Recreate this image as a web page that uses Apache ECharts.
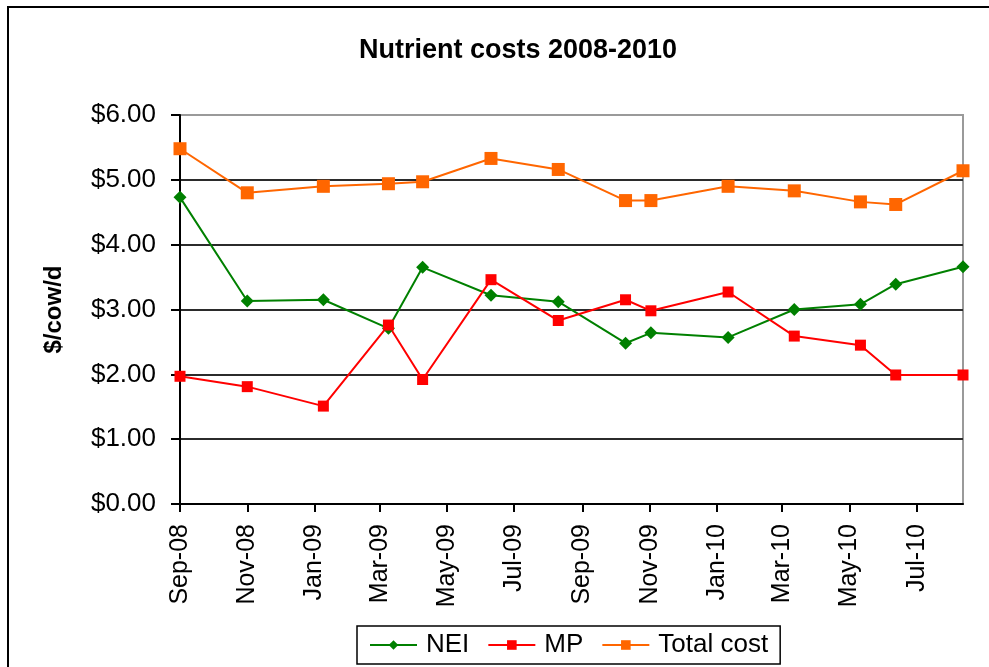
<!DOCTYPE html>
<html>
<head>
<meta charset="utf-8">
<title>Nutrient costs 2008-2010</title>
<script src="https://cdn.jsdelivr.net/npm/echarts@6/dist/echarts.min.js"></script>
<style>
  html, body { margin: 0; padding: 0; background: #ffffff; }
  #chart { width: 989px; height: 667px; }
</style>
</head>
<body>
<div id="chart"></div>
<script>
// Sampling dates (irregular) and monthly costs in $/cow/d
const sampleDates = ['2008-09-01', '2008-11-01', '2009-01-09', '2009-03-09', '2009-04-09',
  '2009-06-10', '2009-08-10', '2009-10-10', '2009-11-02', '2010-01-11', '2010-03-12',
  '2010-05-11', '2010-06-12', '2010-08-12'];
const neiCost = [4.73, 3.13, 3.15, 2.71, 3.65, 3.22, 3.12, 2.48, 2.64, 2.57, 3.00, 3.08, 3.39, 3.66];
const mpCost = [1.97, 1.81, 1.51, 2.76, 1.92, 3.46, 2.83, 3.15, 2.98, 3.27, 2.59, 2.45, 1.99, 1.99];
const totalCost = [5.48, 4.80, 4.90, 4.94, 4.97, 5.33, 5.16, 4.68, 4.68, 4.90, 4.83, 4.66, 4.62, 5.14];

// Date axis ticks, every two months
const tickDates = ['2008-09-01', '2008-11-01', '2009-01-01', '2009-03-01', '2009-05-01', '2009-07-01',
  '2009-09-01', '2009-11-01', '2010-01-01', '2010-03-01', '2010-05-01', '2010-07-01'];
const tickLabels = ['Sep-08', 'Nov-08', 'Jan-09', 'Mar-09', 'May-09', 'Jul-09',
  'Sep-09', 'Nov-09', 'Jan-10', 'Mar-10', 'May-10', 'Jul-10'];
const axisStart = '2008-09-01';
const axisEnd = '2010-08-12';

const yTicks = [0, 1, 2, 3, 4, 5, 6];

// Dates become day numbers counted from the start of the axis
const DAY = 86400000;
function toDay(s) {
  const p = s.split('-').map(Number);
  return Math.round(Date.UTC(p[0], p[1] - 1, p[2]) / DAY);
}
const day0 = toDay(axisStart);
const dayOf = (s) => toDay(s) - day0;

const tickDays = tickDates.map(dayOf);
const pairs = (vals) => sampleDates.map((d, i) => [dayOf(d), vals[i]]);

const FONT = '"Liberation Sans", Arial, Helvetica, sans-serif';

const chart = echarts.init(document.getElementById('chart'), null, { renderer: 'canvas' });

chart.setOption({
  backgroundColor: '#ffffff',
  animation: false,
  title: {
    text: 'Nutrient costs 2008-2010',
    left: 513,
    textAlign: 'center',
    top: 32,
    textStyle: { fontFamily: FONT, fontSize: 27, fontWeight: 'bold', color: '#000000' }
  },
  graphic: [{
    type: 'rect',
    shape: { x: 8, y: 7, width: 1000, height: 700 },
    style: { fill: 'none', stroke: '#000000', lineWidth: 2 },
    silent: true,
    z: 100
  }],
  legend: {
    left: 357,
    top: 626,
    itemWidth: 47,
    itemHeight: 12,
    itemGap: 18,
    padding: [6, 12, 6, 12],
    borderColor: '#000000',
    borderWidth: 1.5,
    textStyle: { fontFamily: FONT, fontSize: 26, color: '#000000', padding: [0, 0, 0, 4] },
    data: ['NEI', 'MP', 'Total cost']
  },
  grid: {
    left: 180,
    right: 26,
    top: 115,
    bottom: 163,
    show: true,
    borderColor: '#9a9a9a',
    borderWidth: 2,
    backgroundColor: '#ffffff',
    outerBoundsMode: 'none'
  },
  xAxis: {
    type: 'value',
    min: 0,
    max: dayOf(axisEnd),
    axisLine: { show: true, onZero: false, lineStyle: { color: '#000000', width: 2 } },
    axisTick: {
      show: true, length: 8, inside: false,
      customValues: tickDays,
      lineStyle: { color: '#000000', width: 2 }
    },
    axisLabel: {
      show: true,
      rotate: 90,
      margin: 20,
      customValues: tickDays,
      fontFamily: FONT,
      fontSize: 25,
      color: '#000000',
      formatter: (v) => {
        const i = tickDays.indexOf(v);
        return i >= 0 ? tickLabels[i] : '';
      }
    },
    splitLine: { show: false }
  },
  yAxis: {
    type: 'value',
    min: 0,
    max: 6,
    interval: 1,
    name: '$/cow/d',
    nameLocation: 'middle',
    nameGap: 114,
    nameRotate: 90,
    nameTextStyle: { fontFamily: FONT, fontSize: 24, fontWeight: 'bold', color: '#000000' },
    axisLine: { show: true, lineStyle: { color: '#000000', width: 2 } },
    axisTick: { show: true, length: 9, inside: false, lineStyle: { color: '#000000', width: 2 } },
    axisLabel: {
      margin: 24,
      fontFamily: FONT,
      fontSize: 26,
      color: '#000000',
      formatter: (v) => '$' + v.toFixed(2)
    },
    splitLine: {
      show: true,
      lineStyle: {
        color: yTicks.map((t) => (t === 6 ? '#9a9a9a' : '#2b2b2b')),
        width: 2
      }
    }
  },
  series: [
    {
      name: 'NEI',
      type: 'line',
      data: pairs(neiCost),
      symbol: 'diamond',
      symbolSize: 13,
      lineStyle: { color: '#008000', width: 2 },
      itemStyle: { color: '#008000' }
    },
    {
      name: 'MP',
      type: 'line',
      data: pairs(mpCost),
      symbol: 'rect',
      symbolSize: 11,
      lineStyle: { color: '#ff0000', width: 2 },
      itemStyle: { color: '#ff0000' }
    },
    {
      name: 'Total cost',
      type: 'line',
      data: pairs(totalCost),
      symbol: 'rect',
      symbolSize: 13,
      lineStyle: { color: '#ff6600', width: 2 },
      itemStyle: { color: '#ff6600' }
    }
  ]
});
</script>
</body>
</html>
